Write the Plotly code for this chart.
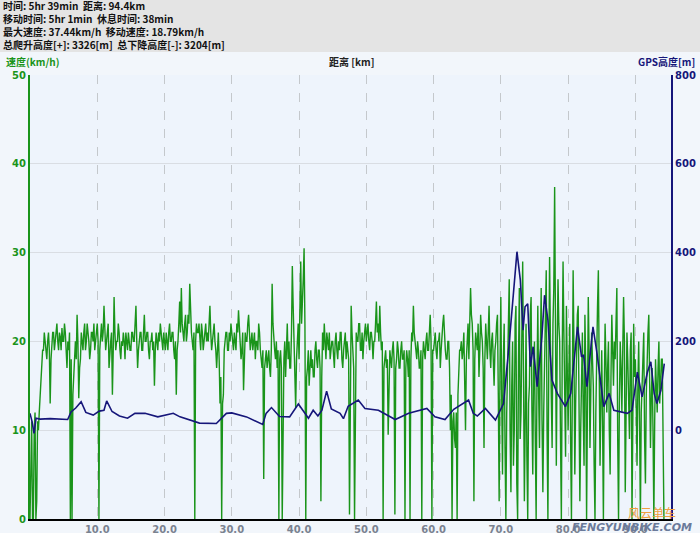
import plotly.graph_objects as go

# ---------------- data ----------------
header_lines = [
    "时间: 5hr 39min  距离: 94.4km",
    "移动时间: 5hr 1min  休息时间: 38min",
    "最大速度: 37.44km/h  移动速度: 18.79km/h",
    "总爬升高度[+]: 3326[m]  总下降高度[-]: 3204[m]",
]

speed_step_km = 0.125
speed_kmh = [
    # km 0 - 5
    0, 9, 11, 0, 0, 10, 12, 0, 2, 11, 10, 12, 14, 16, 17, 19, 19, 21, 20, 18.5,
    18, 20, 21, 19, 13, 18, 19.5, 21, 21, 19, 20, 21.5, 22, 20, 19, 21, 20.5, 19, 21.5, 20,
    # km 5 - 10
    20, 22, 21, 19, 17, 20, 19, 21, 0, 18, 0, 14, 16, 19, 20, 18, 23, 20, 13.6, 17,
    18, 21, 20, 19, 21, 22, 19, 20, 22, 21, 20, 18, 19, 21, 21, 20, 22, 19, 20, 21,
    # km 10 - 15
    22, 20, 0, 19, 21, 22, 20, 21, 24, 21, 19, 20, 21, 22, 17, 19, 20, 21, 14, 19,
    25, 21, 19, 20, 20, 22, 21, 19, 18, 20, 19.5, 21, 20, 18, 21, 20, 19, 21, 20, 19,
    # km 15 - 20
    19, 21, 21, 20, 20, 22, 24, 20, 17, 19, 20, 21, 21, 19, 19, 22, 23, 20, 20, 21,
    21, 19, 18, 20, 20, 21, 19, 20, 15, 19, 21, 20, 19, 21, 20, 22, 21, 20, 19, 21,
    # km 20 - 25
    20, 19, 21, 20, 19, 21, 22, 20, 20, 21, 21, 19, 18, 20, 14, 19, 20, 22, 24.5, 21,
    26, 22, 21, 20, 22, 23, 20, 21, 23, 22, 26.5, 22, 21, 20, 19, 21, 0, 20, 22, 21,
    # km 25 - 30
    21, 22, 20, 19, 22, 21, 19, 20, 21, 22, 20, 21, 20, 22, 24, 21, 19, 20, 21, 22,
    20, 19, 17, 20, 21, 18, 13, 16, 0, 13, 14, 19, 20, 21, 21, 19, 19, 21, 20, 22,
    # km 30 - 35
    21, 20, 19, 21, 20, 19, 22, 21, 23.5, 21, 20, 18, 19, 21, 14.5, 19, 21, 20, 20, 22,
    23, 21, 19, 20, 21, 19, 20, 21, 18, 20, 20, 19, 22, 21, 19, 18, 17, 19, 4.5, 17,
    # km 35 - 40
    18, 19, 17, 18, 19, 17, 16, 19, 26.5, 22, 20, 19, 18, 20, 17, 19, 0, 18, 19, 17,
    0, 16, 18, 20, 16, 19, 22, 18, 20, 17, 17, 21, 28.5, 24, 19, 17, 12.5, 18, 20, 22,
    # km 40 - 45
    18, 24, 29, 22, 24, 27, 30.5, 22, 0, 16, 17, 19, 15, 18, 19, 17, 18, 16, 16, 19,
    20, 18, 17, 19, 19, 17, 2, 16, 21, 19, 22, 20, 18, 21, 20, 19, 21, 18, 19, 20,
    # km 45 - 50
    20, 18, 17, 20, 21, 19, 18, 20, 19, 21, 21, 18, 17, 19, 20, 21, 18, 20, 19, 18,
    0.5, 20, 24, 21, 19, 17, 0, 18, 21, 20, 20, 22, 22, 19, 19, 21, 18, 20, 21, 22,
    # km 50 - 55
    20, 21, 22, 20, 19, 21, 21, 20, 18, 20, 20, 22, 24.5, 21, 22, 20, 24, 21, 19, 20,
    0, 17, 18, 19, 17, 18, 9.5, 16, 19, 18, 17, 19, 20, 18, 0.5, 17, 18, 20, 19, 17,
    # km 55 - 60
    17, 19, 20, 18, 18, 19, 0, 17, 19, 18, 16, 19, 0, 18, 21, 20, 24, 21, 20, 19,
    18, 20, 19, 17, 17, 19, 0, 18, 20, 19, 18, 20, 21, 19, 19, 21, 23, 20, 0, 19,
    # km 60 - 65
    19, 20, 21, 19, 18, 20, 20, 21, 17, 19, 21, 22, 23, 20, 19, 18, 18, 20, 20, 17,
    10, 14, 0, 11, 12, 9, 8, 12, 0, 14, 17, 19, 19, 20, 18, 19, 21, 17, 10, 18,
    # km 65 - 70
    20, 22, 18, 21, 26, 23, 22, 19, 2, 18, 21, 20, 19, 22, 16, 19, 23, 21, 20, 17,
    8, 18, 22, 20, 18, 21, 24, 19, 17, 20, 21, 18, 15, 19, 20, 22, 23, 14, 2, 17,
    # km 70 - 75
    25, 14, 5, 18, 22, 8, 0, 12, 18, 24, 27, 10, 3, 15, 20, 6, 10, 22, 24, 4,
    0, 18, 26, 9, 12, 21, 29, 16, 2, 11, 22, 7, 0, 13, 15, 23, 25, 12, 5, 17,
    # km 75 - 80
    20, 9, 0, 16, 24, 14, 8, 19, 26, 11, 3, 12, 18, 25, 28, 10, 0, 17, 29.5, 20,
    14, 8, 22, 26, 37.4, 15, 6, 19, 27, 22, 20, 9, 0, 18, 29, 21, 15, 7, 24, 18,
    # km 80 - 85
    10, 17, 22, 9, 0, 14, 28, 19, 5, 13, 20, 23, 24, 11, 2, 10, 18, 21, 12, 6,
    23, 17, 0, 12, 25, 19, 8, 14, 21, 18, 15, 6, 0, 12, 22, 24, 28, 16, 6, 13,
    # km 85 - 90
    19, 11, 0, 14, 22, 18, 12, 17, 20, 10, 5, 16, 23, 19, 15, 20, 18, 22, 26, 9,
    0, 13, 20, 17, 12, 19, 25, 20, 3, 12, 21, 18, 14, 9, 19, 21, 0, 10, 22, 16,
    # km 90 - 94.25
    18, 13, 6, 15, 20, 11, 0, 12, 16, 20, 21, 9, 4, 14, 19, 21, 23, 15, 8, 14,
    17, 10, 0, 11, 18, 15, 12, 17, 20, 13, 16, 18, 18, 6, 0,
]
speed_km = [round(i * speed_step_km, 3) for i in range(len(speed_kmh))]

elev_km = [0.0, 0.3, 0.6, 0.9, 1.5, 3.0, 5.6, 6.1, 6.8, 7.6, 8.3, 9.4, 10.3, 11.0, 11.4, 12.2,
           13.3, 14.5, 15.6, 17.1, 19.0, 21.3, 22.3, 25.2, 27.7, 29.2, 30.0, 32.2, 34.6, 35.1,
           35.9, 37.1, 38.6, 39.9, 41.4, 42.1, 42.8, 43.4, 44.1, 44.8, 46.1, 46.6, 47.3, 48.8,
           49.8, 51.8, 54.3, 56.3, 59.0, 60.2, 61.7, 63.0, 65.2, 65.9, 66.5, 67.7, 69.2, 70.4,
           71.2, 71.7, 72.4, 72.9, 73.3, 73.6, 74.0, 74.4, 74.8, 75.4, 76.1, 76.5, 77.0, 77.6,
           78.4, 79.6, 80.4, 81.4, 82.0, 82.3, 82.8, 83.7, 84.3, 85.3, 86.1, 86.8, 88.8, 89.5,
           90.3, 91.0, 91.8, 92.3, 92.8, 93.2, 93.8, 94.3]
elev_m = [38, 20, -7, 27, 25, 26, 24, 41, 50, 64, 40, 34, 43, 45, 66, 42,
          32, 27, 38, 38, 30, 38, 30, 16, 15, 38, 39, 30, 13, 38,
          51, 31, 30, 59, 27, 45, 32, 45, 88, 48, 38, 26, 54, 68,
          49, 45, 24, 38, 49, 30, 24, 47, 68, 38, 32, 49, 23, 60,
          188, 278, 402, 338, 225, 278, 285, 143, 188, 98, 210, 304, 248, 113,
          83, 53, 83, 233, 165, 170, 98, 233, 173, 53, 83, 45, 38, 45,
          131, 75, 131, 154, 83, 60, 90, 150]

x_ticks = [10, 20, 30, 40, 50, 60, 70, 80, 90]
x_ticktext = ["10.0", "20.0", "30.0", "40.0", "50.0", "60.0", "70.0", "80.0", "90.0"]
speed_ticks = [0, 10, 20, 30, 40, 50]
elev_ticks = [0, 200, 400, 600, 800]

# ---------------- figure ----------------
GREEN = "#1a941a"
NAVY = "#16167a"
PLOT_L, PLOT_R, PLOT_T, PLOT_B = 30, 29, 75, 14
W, H = 700, 533
pw = W - PLOT_L - PLOT_R
ph = H - PLOT_T - PLOT_B


def px_to_paper_y(y):
    return 1 + (PLOT_T - y) / ph


def px_to_paper_x(x):
    return (x - PLOT_L) / pw


fig = go.Figure()
fig.add_trace(go.Scatter(x=speed_km, y=speed_kmh, mode="lines",
                         line=dict(color=GREEN, width=1.4), yaxis="y", hoverinfo="skip"))
fig.add_trace(go.Scatter(x=elev_km, y=elev_m, mode="lines",
                         line=dict(color=NAVY, width=1.6), yaxis="y2", hoverinfo="skip"))

tickfont = dict(family="DejaVu Sans", size=10, weight="bold")

fig.update_layout(
    width=W, height=H,
    margin=dict(l=PLOT_L, r=PLOT_R, t=PLOT_T, b=PLOT_B, autoexpand=False),
    paper_bgcolor="#f2f6fb",
    plot_bgcolor="#eef4fc",
    showlegend=False,
    xaxis=dict(range=[0, 95.3], tickvals=x_ticks, ticktext=x_ticktext,
               showgrid=True, gridcolor="#c4c8cc", griddash="dash", gridwidth=1,
               showline=True, linecolor="#000000", linewidth=1.5, zeroline=False,
               ticks="", tickfont=dict(tickfont, color="#7a8290"), ticklabelstandoff=0),
    yaxis=dict(range=[0, 50], tickvals=speed_ticks, showgrid=True, gridcolor="#d9dde3",
               showline=True, linecolor=GREEN, linewidth=2, zeroline=False, ticks="",
               tickfont=dict(tickfont, color=GREEN)),
    yaxis2=dict(range=[-200, 800], tickvals=elev_ticks, overlaying="y", side="right",
                showgrid=False, showline=True, linecolor=NAVY, linewidth=2, zeroline=False,
                ticks="", tickfont=dict(tickfont, color=NAVY)),
)

# header band
fig.add_shape(type="rect", xref="paper", yref="paper",
              x0=px_to_paper_x(0), x1=px_to_paper_x(W), y0=px_to_paper_y(52), y1=px_to_paper_y(0),
              fillcolor="#e4e4e4", line=dict(width=0), layer="below")

hfont = dict(family="Noto Sans CJK SC", size=10, color="#111111", weight="bold")
for i, txt in enumerate(header_lines):
    fig.add_annotation(text=txt, xref="paper", yref="paper",
                       x=px_to_paper_x(1), y=px_to_paper_y(6 + 12.8 * i),
                       xanchor="left", yanchor="middle", showarrow=False, font=hfont)

fig.add_annotation(text="速度(km/h)", xref="paper", yref="paper",
                   x=px_to_paper_x(4), y=px_to_paper_y(62), xanchor="left", yanchor="middle",
                   showarrow=False, font=dict(family="Noto Sans CJK SC", size=10, color=GREEN, weight="bold"))
fig.add_annotation(text="距离 [km]", xref="paper", yref="paper",
                   x=px_to_paper_x(352), y=px_to_paper_y(62), xanchor="center", yanchor="middle",
                   showarrow=False, font=dict(family="Noto Sans CJK SC", size=10, color="#222222", weight="bold"))
fig.add_annotation(text="GPS高度[m]", xref="paper", yref="paper",
                   x=px_to_paper_x(697), y=px_to_paper_y(62), xanchor="right", yanchor="middle",
                   showarrow=False, font=dict(family="Noto Sans CJK SC", size=10, color=NAVY, weight="bold"))

# watermark
fig.add_annotation(text="风云单车", xref="paper", yref="paper",
                   x=px_to_paper_x(652), y=px_to_paper_y(512), xanchor="center", yanchor="middle",
                   showarrow=False, font=dict(family="Noto Sans CJK SC", size=12, color="#f0a040"))
fig.add_annotation(text="<i>FENGYUNBIKE.COM</i>", xref="paper", yref="paper",
                   x=px_to_paper_x(632), y=px_to_paper_y(527), xanchor="center", yanchor="middle",
                   showarrow=False, font=dict(family="DejaVu Sans", size=11, color="#6a7a9a", weight="bold"))

fig.write_html("out.html", config={"displayModeBar": False})

# remove the browser's default page margin so the 700x533 figure fills the window exactly
with open("out.html", "r", encoding="utf-8") as f:
    html = f.read()
html = html.replace("<head>", "<head><style>html,body{margin:0;padding:0;overflow:hidden;}</style>", 1)
with open("out.html", "w", encoding="utf-8") as f:
    f.write(html)
